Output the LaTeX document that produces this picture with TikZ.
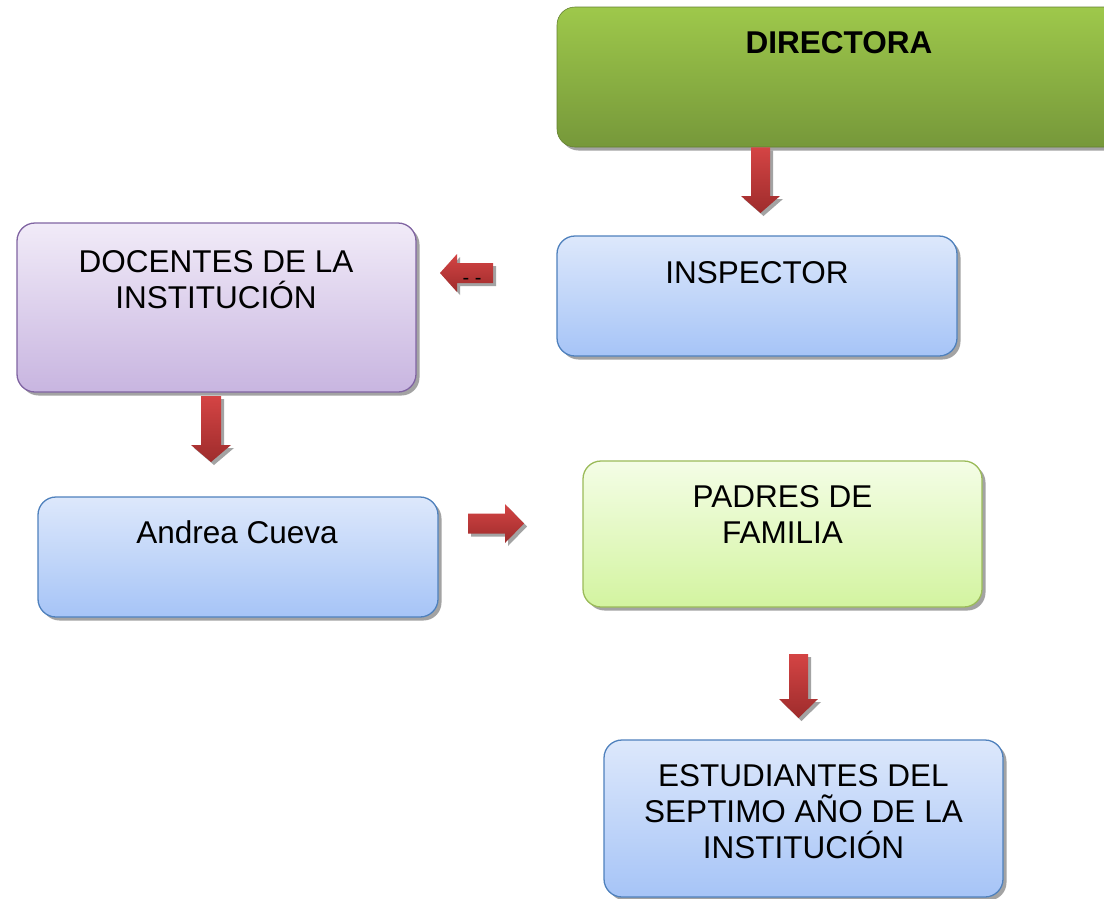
\documentclass[tikz,border=0pt]{standalone}
\usepackage{fontspec}
\setmainfont{Liberation Sans}
\usetikzlibrary{calc,shadows}
\definecolor{dirtop}{HTML}{9EC84B}
\definecolor{dirbot}{HTML}{76983A}
\definecolor{bluetop}{HTML}{DDE8FB}
\definecolor{bluebot}{HTML}{A6C4F7}
\definecolor{blueline}{HTML}{4F81BD}
\definecolor{purtop}{HTML}{F1EBF8}
\definecolor{purbot}{HTML}{C8B5E0}
\definecolor{purline}{HTML}{8064A2}
\definecolor{grntop}{HTML}{F4FDE6}
\definecolor{grnbot}{HTML}{D3F4A0}
\definecolor{grnline}{HTML}{9BBB59}
\definecolor{arrtop}{HTML}{D44444}
\definecolor{arrbot}{HTML}{9E2C2C}
\definecolor{shadowgray}{HTML}{A3A3A3}
\tikzset{
  box/.style={rectangle, rounded corners=18pt, inner sep=0pt, line width=1.3pt,
    drop shadow={shadow xshift=3.5pt, shadow yshift=-3.5pt, fill=shadowgray, opacity=1}},
  bluebox/.style={box, draw=blueline, top color=bluetop, bottom color=bluebot},
  txt/.style={inner sep=0pt, align=center, font=\fontsize{31.5}{36}\selectfont},
  arrowfill/.style={shade, top color=arrtop, bottom color=arrbot},
  arrowshadow/.style={fill=shadowgray, transform canvas={xshift=3pt, yshift=-3pt}}
}
% #1 prefix, #2 start, #3 end, #4 half shaft width, #5 half head width, #6 head length
\newcommand\blockarrow[6]{%
  \coordinate (#1-h) at ($(#3)!#6!(#2)$);
  \path[arrowshadow] ($(#2)!#4!90:(#3)$) -- ($(#1-h)!#4!90:(#3)$) -- ($(#1-h)!#5!90:(#3)$) -- (#3)
     -- ($(#1-h)!#5!-90:(#3)$) -- ($(#1-h)!#4!-90:(#3)$) -- ($(#2)!#4!-90:(#3)$) -- cycle;
  \path[arrowfill] ($(#2)!#4!90:(#3)$) -- ($(#1-h)!#4!90:(#3)$) -- ($(#1-h)!#5!90:(#3)$) -- (#3)
     -- ($(#1-h)!#5!-90:(#3)$) -- ($(#1-h)!#4!-90:(#3)$) -- ($(#2)!#4!-90:(#3)$) -- cycle;
}
\begin{document}
\begin{tikzpicture}[x=1pt,y=-1pt]
\useasboundingbox[fill=white] (0,0) rectangle (1104,898);

% boxes
\node[box, draw=dirbot!85!black, line width=0.6pt, top color=dirtop, bottom color=dirbot,
      minimum width=566pt, minimum height=140pt] (dir) at (840,77) {};
\node[bluebox, minimum width=400pt, minimum height=120pt] (ins) at (757,296) {};
\node[box, draw=purline, top color=purtop, bottom color=purbot,
      minimum width=399pt, minimum height=169pt] (doc) at (216.5,307.5) {};
\node[bluebox, minimum width=400pt, minimum height=120pt] (and) at (238,557) {};
\node[box, draw=grnline, top color=grntop, bottom color=grnbot,
      minimum width=399pt, minimum height=146pt] (pad) at (782.5,534) {};
\node[bluebox, minimum width=399pt, minimum height=157pt] (est) at (803.5,818.5) {};

% texts
\node[txt, anchor=base, font=\fontsize{31.5}{36}\selectfont\bfseries] (dirT) at (839,53) {DIRECTORA};
\node[txt, anchor=base] (insT) at (757,283) {INSPECTOR};
\node[txt, anchor=north] (docT) at (216,250.5) {DOCENTES DE LA\\INSTITUCIÓN};
\node[txt, anchor=base] (andT) at (237,543) {Andrea Cueva};
\node[txt, anchor=north] (padT) at (782.5,485.5) {PADRES DE\\FAMILIA};
\node[txt, anchor=north] (estT) at (803.5,764.5) {ESTUDIANTES DEL\\SEPTIMO AÑO DE LA\\INSTITUCIÓN};

% connectors (block arrows)
\coordinate (a1s) at (dir.south -| 760.5,0);
\coordinate (a1e) at (760.5,213);
\blockarrow{a1}{a1s}{a1e}{9.5pt}{19.5pt}{17pt}

\coordinate (a2s) at (493,273);
\coordinate (a2e) at (440,273);
\blockarrow{a2}{a2s}{a2e}{10pt}{19pt}{17pt}
\node[inner sep=0pt, anchor=base, font=\fontsize{20}{20}\selectfont] (a2T) at (472,284) {- -};

\coordinate (a3s) at (211,396);
\coordinate (a3e) at (211,462);
\blockarrow{a3}{a3s}{a3e}{10pt}{20pt}{17pt}

\coordinate (a4s) at (468,523.5);
\coordinate (a4e) at (524,523.5);
\blockarrow{a4}{a4s}{a4e}{10pt}{19.5pt}{19pt}

\coordinate (a5s) at (798.5,654);
\coordinate (a5e) at (798.5,718);
\blockarrow{a5}{a5s}{a5e}{9.5pt}{19.5pt}{19pt}
\end{tikzpicture}
\end{document}
